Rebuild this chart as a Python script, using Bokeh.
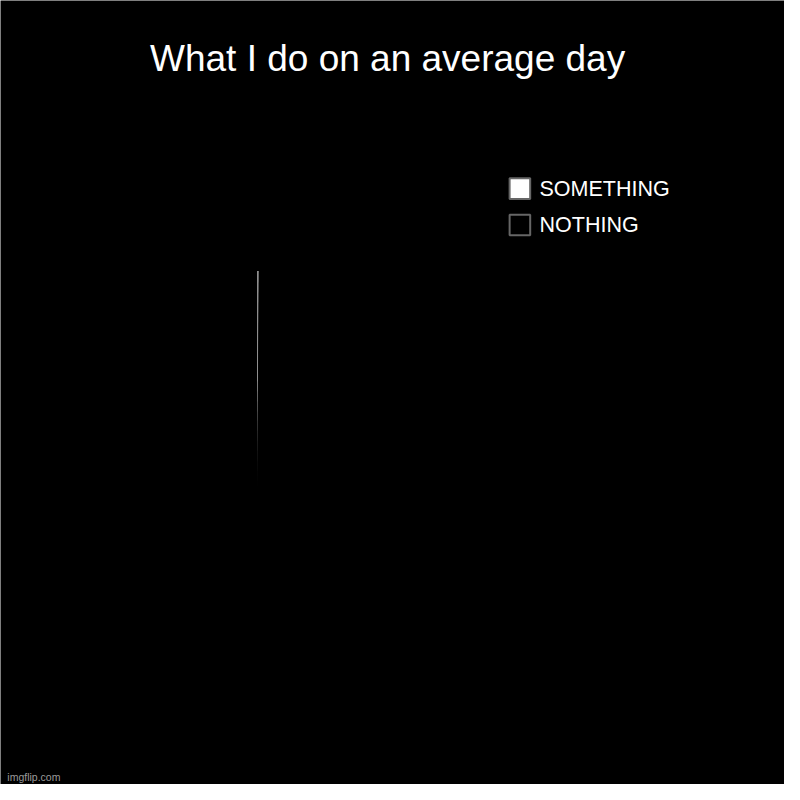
import numpy as np
from bokeh.plotting import figure
from bokeh.models import Range1d, ColumnDataSource
from bokeh.core.properties import value
from bokeh.embed import file_html
from bokeh.resources import INLINE

title = "What I do on an average day"
categories = ["SOMETHING", "NOTHING"]
values = [1, 999]
colors = ["#ffffff", "#000000"]

vals = np.array(values, dtype=float)
frac = vals / vals.sum()
ends = np.pi / 2 - 2 * np.pi * np.cumsum(frac)
starts = np.concatenate([[np.pi / 2], ends[:-1]])

W = 784
p = figure(width=W, height=W, x_range=Range1d(0, 800), y_range=Range1d(-800, 0),
           output_backend="svg", toolbar_location=None, min_border=0)
p.axis.visible = False
p.grid.visible = False
p.outline_line_color = None
p.background_fill_color = "#000000"
p.border_fill_color = "#000000"

src = ColumnDataSource(dict(start=starts, end=ends, color=colors, cat=categories))
p.wedge(x=262, y=-505, radius=229, start_angle="start", end_angle="end",
        direction="clock", fill_color="color", line_color=None, source=src)

# legend
ly = [-192, -229]
lsrc = ColumnDataSource(dict(y=ly, color=colors, cat=categories))
p.rect(x=530, y="y", width=21, height=21, fill_color="color", line_color="#666666",
       line_width=2, source=lsrc)
p.text(x=550, y="y", text="cat", text_color="#ffffff", text_font=value("Liberation Sans"),
       text_font_size="21.5px", text_baseline="middle", text_align="left", source=lsrc)

# title
p.text(x=[395], y=[-59], text=[title], text_color="#ffffff", text_font=value("Liberation Sans"),
       text_font_size="37px", text_baseline="alphabetic", text_align="center")

# watermark
p.text(x=[7], y=[-792], text=["imgflip.com"], text_color="#9a9a9a", text_font=value("Liberation Sans"),
       text_font_size="10.5px", text_baseline="alphabetic", text_align="left")

html = file_html(p, INLINE)
html = html.replace("<body>", '<body style="background-color:#000000">', 1)
open("out.html", "w").write(html)
